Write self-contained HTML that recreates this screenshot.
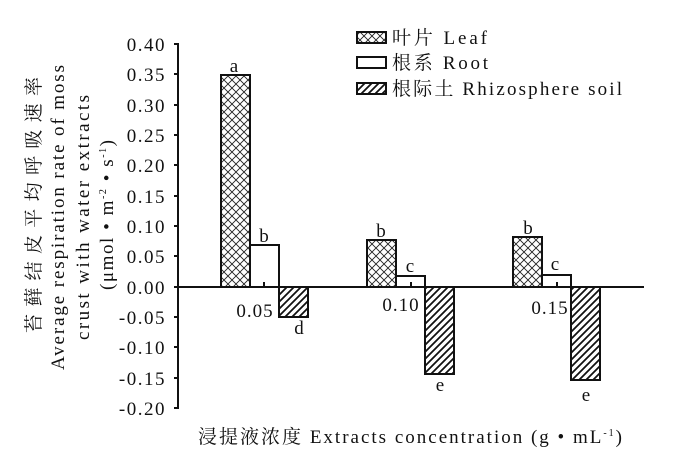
<!DOCTYPE html>
<html><head><meta charset="utf-8"><style>
html,body{margin:0;padding:0;background:#fff}
svg{display:block}
text{font-family:"Liberation Serif","Noto Serif CJK SC",serif;fill:#111}
</style></head><body>
<svg width="679" height="461" viewBox="0 0 679 461" xmlns="http://www.w3.org/2000/svg">
<defs>
<pattern id="cross" width="8" height="8" patternUnits="userSpaceOnUse">
<rect width="8" height="8" fill="#fff"/>
<path d="M0,0L8,8M8,0L0,8" stroke="#222" stroke-width="0.9"/>
</pattern>
<pattern id="diag" width="7" height="7" patternUnits="userSpaceOnUse">
<rect width="7" height="7" fill="#fff"/>
<path d="M-1,8L8,-1M-1,1L1,-1M6,8L8,6" stroke="#111" stroke-width="1.8"/>
</pattern>
</defs>
<line x1="178" y1="43" x2="178" y2="409" stroke="#111" stroke-width="2"/>
<g stroke="#111" stroke-width="2">
<line x1="174" y1="44" x2="178" y2="44"/><line x1="174" y1="74" x2="178" y2="74"/>
<line x1="174" y1="105" x2="178" y2="105"/><line x1="174" y1="135" x2="178" y2="135"/>
<line x1="174" y1="165" x2="178" y2="165"/><line x1="174" y1="196" x2="178" y2="196"/>
<line x1="174" y1="226" x2="178" y2="226"/><line x1="174" y1="256" x2="178" y2="256"/>
<line x1="174" y1="287" x2="178" y2="287"/><line x1="174" y1="317" x2="178" y2="317"/>
<line x1="174" y1="347" x2="178" y2="347"/><line x1="174" y1="378" x2="178" y2="378"/>
<line x1="174" y1="408" x2="178" y2="408"/>
</g>
<g font-size="19" text-anchor="end" letter-spacing="1.5">
<text x="166" y="51">0.40</text><text x="166" y="81">0.35</text>
<text x="166" y="112">0.30</text><text x="166" y="142">0.25</text>
<text x="166" y="172">0.20</text><text x="166" y="203">0.15</text>
<text x="166" y="233">0.10</text><text x="166" y="263">0.05</text>
<text x="166" y="294">0.00</text><text x="166" y="324">-0.05</text>
<text x="166" y="354">-0.10</text><text x="166" y="385">-0.15</text>
<text x="166" y="415">-0.20</text>
</g>
<g stroke="#111" stroke-width="2">
<rect x="221" y="75" width="29" height="212" fill="url(#cross)"/>
<rect x="250" y="245" width="29" height="42" fill="#fff"/>
<rect x="279" y="287" width="29" height="30" fill="url(#diag)"/>
<rect x="367" y="240" width="29" height="47" fill="url(#cross)"/>
<rect x="396" y="276" width="29" height="11" fill="#fff"/>
<rect x="425" y="287" width="29" height="87" fill="url(#diag)"/>
<rect x="513" y="237" width="29" height="50" fill="url(#cross)"/>
<rect x="542" y="275" width="29" height="12" fill="#fff"/>
<rect x="571" y="287" width="29" height="93" fill="url(#diag)"/>
</g>
<line x1="178" y1="287" x2="644" y2="287" stroke="#111" stroke-width="2"/>
<g stroke="#111" stroke-width="2">
<line x1="264" y1="282" x2="264" y2="287"/><line x1="411" y1="282" x2="411" y2="287"/><line x1="557" y1="282" x2="557" y2="287"/>
</g>
<g font-size="19" text-anchor="middle" letter-spacing="1">
<text x="255" y="317">0.05</text><text x="401" y="311">0.10</text><text x="550" y="314">0.15</text>
</g>
<g font-size="19" text-anchor="middle">
<text x="234" y="72">a</text><text x="264" y="242">b</text><text x="299" y="334">d</text>
<text x="381" y="237">b</text><text x="410" y="272">c</text><text x="440" y="391">e</text>
<text x="528" y="234">b</text><text x="555" y="270">c</text><text x="586" y="401">e</text>
</g>
<rect x="357" y="32" width="29" height="11" fill="url(#cross)" stroke="#111" stroke-width="2"/>
<rect x="357" y="57" width="29" height="11" fill="#fff" stroke="#111" stroke-width="2"/>
<rect x="357" y="83" width="29" height="11" fill="url(#diag)" stroke="#111" stroke-width="2"/>
<g font-size="19">
<text x="392" y="44" textLength="95" lengthAdjust="spacing">叶片 Leaf</text>
<text x="392" y="69" textLength="96" lengthAdjust="spacing">根系 Root</text>
<text x="392" y="95" textLength="230" lengthAdjust="spacing">根际土 Rhizosphere soil</text>
</g>
<text x="198" y="443" font-size="19" textLength="424" lengthAdjust="spacing">浸提液浓度 Extracts concentration (g • mL<tspan font-size="10" dy="-7">-1</tspan><tspan dy="7">)</tspan></text>
<g font-size="19">
<text transform="translate(40,333) rotate(-90)" textLength="256" lengthAdjust="spacing">苔藓结皮平均呼吸速率</text>
<text transform="translate(64,370) rotate(-90)" textLength="305" lengthAdjust="spacing">Average respiration rate of moss</text>
<text transform="translate(89,340) rotate(-90)" textLength="245" lengthAdjust="spacing">crust with water extracts</text>
<text transform="translate(113,290) rotate(-90)" textLength="150" lengthAdjust="spacing">(μmol • m<tspan font-size="10" dy="-7">-2</tspan><tspan dy="7"> • s</tspan><tspan font-size="10" dy="-7">-1</tspan><tspan dy="7">)</tspan></text>
</g>
</svg>
</body></html>
